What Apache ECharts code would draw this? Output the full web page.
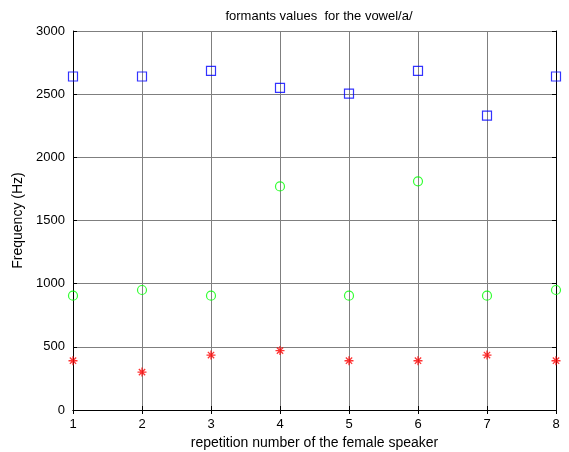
<!DOCTYPE html>
<html><head><meta charset="utf-8">
<script src="https://cdn.jsdelivr.net/npm/echarts@6/dist/echarts.min.js"></script>
<style>html,body{margin:0;padding:0;background:#fff}#c{width:569px;height:452px}</style>
</head><body><div id="c"></div>
<script>
const repetitions = [1, 2, 3, 4, 5, 6, 7, 8];
const f1 = [390, 300, 435, 470, 390, 390, 435, 390];
const f2 = [905, 950, 905, 1770, 905, 1810, 905, 950];
const f3 = [2640, 2640, 2685, 2550, 2505, 2685, 2330, 2640];
const titleText = 'formants values  for the vowel/a/';
const xName = 'repetition number of the female speaker';
const yName = 'Frequency (Hz)';

const FONT = 'Liberation Sans, Arial, sans-serif';
const chart = echarts.init(document.getElementById('c'));
const star = 'path://M0,5L10,5M5,0L5,10M1.5,1.5L8.5,8.5M1.5,8.5L8.5,1.5';
const pts = arr => repetitions.map((r, i) => [r, arr[i]]);
const axisBase = {
  axisLine: {show: true, lineStyle: {color: '#000', width: 1}},
  axisTick: {show: true, inside: true, length: 4, lineStyle: {color: '#000'}},
  splitLine: {show: false},
  axisLabel: {color: '#000', fontFamily: FONT, fontSize: 13, formatter: v => String(v)}
};
chart.setOption({
  animation: false,
  title: {text: titleText, left: 314, top: 5, textAlign: 'center',
    textStyle: {fontFamily: FONT, fontSize: 13, fontWeight: 'normal', color: '#000'}},
  grid: {left: 73, right: 13, top: 31, bottom: 42, outerBoundsMode: 'none', containLabel: false},
  xAxis: [
    Object.assign({}, axisBase, {type: 'value', min: 1, max: 8, interval: 1, position: 'bottom',
      name: xName, nameLocation: 'middle', nameGap: 21,
      nameTextStyle: {fontFamily: FONT, fontSize: 14, color: '#000'},
      axisLabel: Object.assign({}, axisBase.axisLabel, {margin: 8}),
      splitLine: {show: true, lineStyle: {color: '#7f7f7f', width: 1}}}),
    Object.assign({}, axisBase, {type: 'value', min: 1, max: 8, interval: 1, position: 'top',
      axisLabel: {show: false}})
  ],
  yAxis: [
    Object.assign({}, axisBase, {type: 'value', min: 0, max: 3000, interval: 500, position: 'left',
      name: yName, nameLocation: 'middle', nameGap: 37,
      nameTextStyle: {fontFamily: FONT, fontSize: 14, color: '#000'},
      axisLabel: Object.assign({}, axisBase.axisLabel, {margin: 8}),
      splitLine: {show: true, lineStyle: {color: '#7f7f7f', width: 1}}}),
    Object.assign({}, axisBase, {type: 'value', min: 0, max: 3000, interval: 500, position: 'right',
      axisLabel: {show: false}})
  ],
  series: [
    {type: 'scatter', data: pts(f1), symbol: star, symbolSize: 9,
      itemStyle: {color: 'none', borderColor: '#ff0000', borderWidth: 1.3}},
    {type: 'scatter', data: pts(f2), symbol: 'circle', symbolSize: 9,
      itemStyle: {color: 'none', borderColor: '#00ff00', borderWidth: 1.2}},
    {type: 'scatter', data: pts(f3), symbol: 'rect', symbolSize: 9,
      itemStyle: {color: 'none', borderColor: '#0000ff', borderWidth: 1.2}}
  ]
});
</script></body></html>
